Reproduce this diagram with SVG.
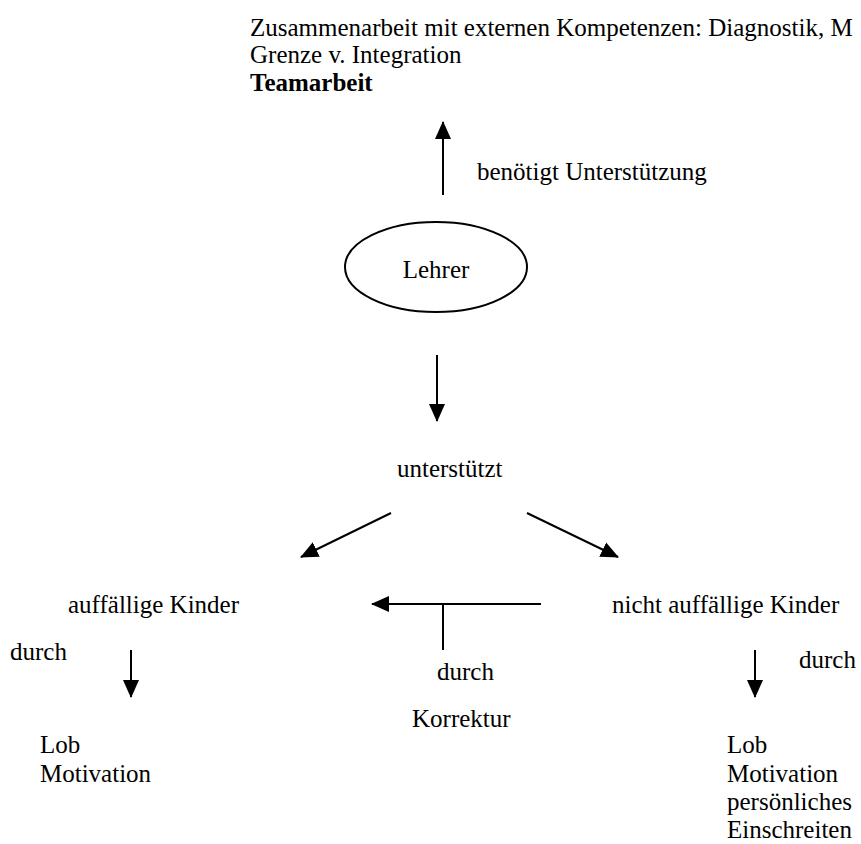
<svg xmlns="http://www.w3.org/2000/svg" width="861" height="844" viewBox="0 0 861 844">
<style>
text{font-family:"Liberation Serif","Times New Roman",serif;font-size:25px;fill:#000}
.b{font-weight:bold}
.ln{stroke:#000;stroke-width:2;fill:none}
</style>
<defs>
<marker id="ah" markerUnits="userSpaceOnUse" markerWidth="18" markerHeight="18" viewBox="0 0 18 18" refX="17" refY="9" orient="auto">
<path d="M0,1 L18,9 L0,17 Z" fill="#000"/>
</marker>
</defs>
<rect width="861" height="844" fill="#fff"/>
<g id="top-text">
<text x="250" y="36">Zusammenarbeit mit externen Kompetenzen: Diagnostik, M</text>
<text x="250" y="63">Grenze v. Integration</text>
<text x="250" y="91" class="b">Teamarbeit</text>
</g>
<g id="label-benoetigt"><text x="477" y="180">benötigt Unterstützung</text></g>
<g id="lehrer">
<ellipse cx="436" cy="267" rx="91" ry="45" class="ln"/>
<text x="436" y="278" text-anchor="middle">Lehrer</text>
</g>
<g id="unterstuetzt"><text x="397" y="477">unterstützt</text></g>
<g id="auffaellig"><text x="68" y="613">auffällige Kinder</text></g>
<g id="nicht-auffaellig"><text x="612" y="613">nicht auffällige Kinder</text></g>
<g id="durch-left"><text x="10" y="660">durch</text></g>
<g id="durch-mid"><text x="437" y="680">durch</text></g>
<g id="korrektur"><text x="412" y="727">Korrektur</text></g>
<g id="durch-right"><text x="799" y="668">durch</text></g>
<g id="list-left">
<text x="40" y="753">Lob</text>
<text x="40" y="782">Motivation</text>
</g>
<g id="list-right">
<text x="727" y="753">Lob</text>
<text x="727" y="782">Motivation</text>
<text x="727" y="810">persönliches</text>
<text x="727" y="838">Einschreiten</text>
</g>
<g id="connectors">
<line x1="443" y1="195" x2="443" y2="122" class="ln" marker-end="url(#ah)"/>
<line x1="437" y1="355" x2="437" y2="421" class="ln" marker-end="url(#ah)"/>
<line x1="391" y1="513" x2="301" y2="557" class="ln" marker-end="url(#ah)"/>
<line x1="527" y1="513" x2="618" y2="557" class="ln" marker-end="url(#ah)"/>
<line x1="541" y1="604" x2="372" y2="604" class="ln" marker-end="url(#ah)"/>
<line x1="443" y1="604" x2="443" y2="650" class="ln"/>
<line x1="131" y1="650" x2="131" y2="697" class="ln" marker-end="url(#ah)"/>
<line x1="755" y1="650" x2="755" y2="697" class="ln" marker-end="url(#ah)"/>
</g>
</svg>
